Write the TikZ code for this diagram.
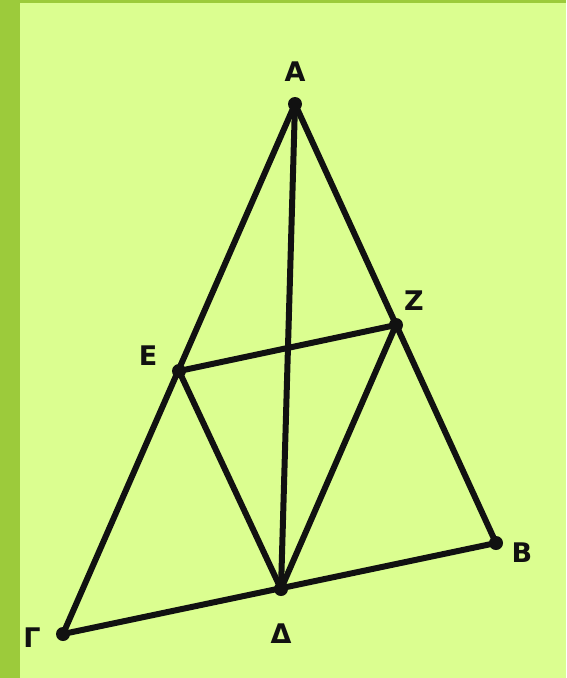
\documentclass[tikz,border=0pt]{standalone}
\usepackage{fontspec}
\setmainfont{DejaVu Sans}
\usepackage{xcolor}
\usepackage{tikz}
\usetikzlibrary{positioning}
\definecolor{Lime}{HTML}{DBFE90}
\definecolor{Moss}{HTML}{9CCB3B}
\definecolor{Ink}{HTML}{111111}

\begin{document}
\begin{tikzpicture}[
  x=1pt,y=-1pt,
  node distance=6pt,
  pt/.style={circle,fill=Ink,inner sep=0pt,minimum size=14pt},
  lbl/.style={font=\fontsize{27}{30}\selectfont\bfseries,text=Ink,inner sep=0pt},
  edge/.style={draw=Ink,line width=6pt,line cap=round}
]
% background and frame
\fill[Lime] (0,0) rectangle (566,678);
\fill[Moss] (0,0) rectangle (20,678);
\fill[Moss] (0,0) rectangle (566,3);
\useasboundingbox (0,0) rectangle (566,678);
% points
\coordinate (A) at (295,104);
\coordinate (Z) at (396,325);
\coordinate (E) at (179,371);
\coordinate (B) at (496,543);
\coordinate (D) at (281,589);
\coordinate (G) at (63,634);
% sides and segments
\draw[edge] (A)--(G);
\draw[edge] (A)--(B);
\draw[edge] (G)--(B);
\draw[edge] (A)--(D);
\draw[edge] (E)--(Z);
\draw[edge] (E)--(D);
\draw[edge] (Z)--(D);
% dots
\node[pt] (a) at (A) {};
\node[pt] (z) at (Z) {};
\node[pt] (e) at (E) {};
\node[pt] (b) at (B) {};
\node[pt] (d) at (D) {};
\node[pt] (g) at (G) {};
% labels
\node[lbl] (la) at (295,72) {Α};
\node[lbl] (lz) at (414,301) {Ζ};
\node[lbl] (le) at (148,356) {Ε};
\node[lbl] (lb) at (522,553) {Β};
\node[lbl] (ld) at (281,634) {Δ};
\node[lbl] (lg) at (32,638) {Γ};
\end{tikzpicture}
\end{document}
